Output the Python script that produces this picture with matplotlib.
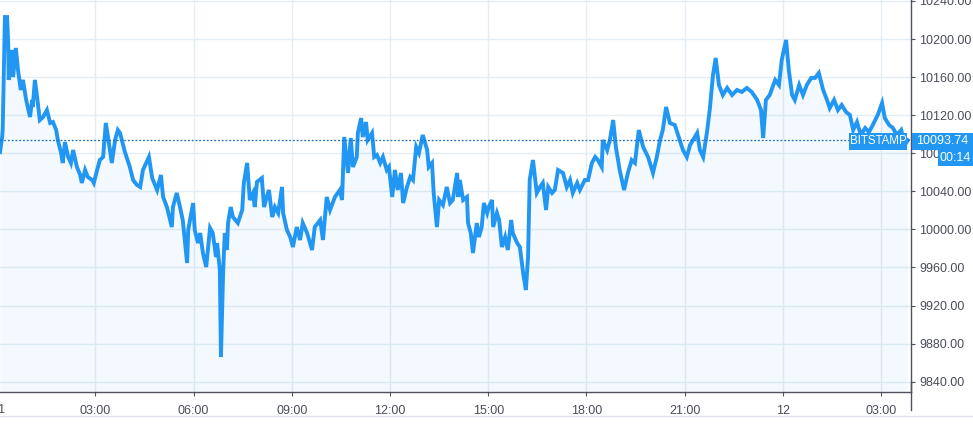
import matplotlib
matplotlib.use("Agg")
import matplotlib.pyplot as plt
from matplotlib.patches import Rectangle

plt.rcParams['font.family'] = ['Liberation Sans Narrow', 'Liberation Sans', 'DejaVu Sans']

# minutes since 11th 00:00, BTC/USD price
minutes = [5, 9, 10, 14, 18, 20, 21, 27, 29, 34, 38, 43, 47, 53, 60, 64, 65, 69, 73, 78,
           84, 91, 97, 102, 108, 111, 117, 120, 124, 130, 135, 139, 146, 152, 155, 161, 166, 174, 177, 183,
           188, 194, 199, 203, 210, 216, 221, 225, 234, 243, 249, 256, 262, 267, 278, 284, 293, 300, 304, 311,
           320, 322, 329, 335, 340, 348, 350, 359, 362, 368, 372, 377, 383, 390, 395, 401, 403, 408, 410, 414,
           417, 421, 423, 428, 432, 441, 449, 452, 458, 463, 469, 472, 476, 485, 489, 494, 498, 504, 509, 515,
           522, 524, 531, 537, 542, 549, 555, 560, 568, 577, 582, 592, 597, 604, 610, 619, 628, 632, 636, 641,
           643, 648, 652, 659, 661, 667, 670, 676, 679, 687, 691, 696, 702, 707, 714, 718, 724, 729, 734, 740,
           744, 751, 757, 762, 768, 773, 780, 788, 791, 797, 800, 806, 810, 817, 824, 830, 835, 843, 845, 848,
           854, 861, 863, 868, 872, 879, 883, 888, 892, 898, 901, 907, 909, 916, 920, 925, 931, 936, 942, 945,
           953, 958, 964, 969, 973, 976, 982, 989, 995, 1000, 1006, 1010, 1017, 1022, 1028, 1037, 1044, 1050, 1055, 1063,
           1068, 1077, 1083, 1090, 1096, 1101, 1108, 1110, 1118, 1123, 1129, 1134, 1141, 1149, 1156, 1163, 1169, 1176, 1184, 1193,
           1202, 1209, 1215, 1220, 1226, 1233, 1242, 1251, 1257, 1264, 1270, 1283, 1288, 1294, 1301, 1306, 1312, 1317, 1323, 1330,
           1338, 1347, 1356, 1365, 1374, 1383, 1393, 1400, 1404, 1409, 1416, 1426, 1433, 1438, 1446, 1451, 1457, 1462, 1470, 1477,
           1484, 1492, 1499, 1506, 1514, 1521, 1526, 1534, 1541, 1548, 1556, 1563, 1569, 1576, 1583, 1591, 1598, 1605, 1614, 1622,
           1627, 1635, 1642, 1649, 1657, 1664, 1669]
prices = [10081.3, 10097.1, 10106.5, 10223.1, 10223.1, 10195.8, 10157.0, 10188.5, 10160.1, 10190.6,
          10167.5, 10146.5, 10157.0, 10136.0, 10118.1, 10136.0, 10128.6, 10157.0, 10139.1, 10114.9,
          10118.1, 10125.4, 10111.8, 10112.8, 10104.4, 10093.9, 10080.3, 10069.8, 10091.8, 10076.1,
          10069.8, 10083.4, 10065.6, 10057.2, 10048.8, 10062.4, 10055.1, 10051.9, 10048.8, 10062.4,
          10072.9, 10076.1, 10111.8, 10097.1, 10069.8, 10093.9, 10104.4, 10101.3, 10081.3, 10065.6,
          10051.9, 10046.7, 10044.6, 10062.4, 10076.1, 10054.0, 10041.4, 10057.2, 10034.1, 10023.5,
          10002.5, 10023.5, 10038.3, 10023.5, 10009.9, 9964.7, 9999.4, 10027.7, 9999.4, 9985.7,
          9996.2, 9975.2, 9960.5, 10001.5, 9996.2, 9971.0, 9985.7, 9957.4, 9866.0, 9954.2,
          9996.2, 9978.4, 10006.7, 10023.5, 10013.0, 10006.7, 10020.4, 10048.8, 10069.8, 10030.9,
          10038.3, 10023.5, 10049.8, 10054.0, 10023.5, 10034.1, 10041.4, 10013.0, 10023.5, 10017.2,
          10044.6, 10017.2, 9999.4, 9992.0, 9981.5, 10002.5, 9988.9, 10006.7, 9996.2, 9978.4,
          10002.5, 10009.9, 9988.9, 10034.1, 10020.4, 10034.1, 10041.4, 10030.9, 10097.1, 10069.8,
          10059.3, 10096.0, 10065.6, 10076.1, 10101.3, 10117.0, 10097.1, 10112.8, 10093.9, 10101.3,
          10076.1, 10078.2, 10069.8, 10076.1, 10062.4, 10065.6, 10034.1, 10062.4, 10041.4, 10059.3,
          10027.7, 10044.6, 10055.1, 10051.9, 10086.6, 10080.3, 10099.2, 10083.4, 10065.6, 10069.8,
          10038.3, 10002.5, 10030.9, 10025.6, 10044.6, 10027.7, 10030.9, 10059.3, 10034.1, 10051.9,
          10030.9, 10034.1, 10006.7, 9996.2, 9975.2, 10006.7, 9992.0, 10002.5, 10027.7, 10017.2,
          10023.5, 10030.9, 10002.5, 10017.2, 10009.9, 9981.5, 9992.0, 9978.4, 10009.9, 9996.2,
          9985.7, 9981.5, 9954.2, 9936.4, 9971.0, 10051.9, 10072.9, 10038.3, 10044.6, 10048.8,
          10020.4, 10044.6, 10038.3, 10041.4, 10062.4, 10059.3, 10044.6, 10051.9, 10038.3, 10048.8,
          10041.4, 10051.9, 10051.9, 10069.8, 10076.1, 10072.9, 10065.6, 10093.9, 10083.4, 10093.9,
          10114.9, 10086.6, 10062.4, 10041.4, 10059.3, 10072.9, 10069.8, 10104.4, 10086.6, 10076.1,
          10059.3, 10076.1, 10093.9, 10104.4, 10128.6, 10111.8, 10109.7, 10093.9, 10083.4, 10076.1,
          10088.7, 10101.3, 10083.4, 10076.1, 10102.3, 10125.4, 10162.2, 10180.1, 10151.7, 10141.2,
          10148.6, 10141.2, 10146.5, 10144.4, 10148.6, 10144.4, 10136.0, 10125.4, 10096.0, 10136.0,
          10141.2, 10157.0, 10151.7, 10178.0, 10199.0, 10167.5, 10141.2, 10136.0, 10151.7, 10141.2,
          10151.7, 10159.1, 10159.1, 10164.3, 10146.5, 10136.0, 10127.5, 10136.0, 10125.4, 10130.7,
          10123.3, 10120.2, 10104.4, 10112.8, 10099.2, 10106.5, 10102.3, 10109.7, 10120.2, 10132.8,
          10117.0, 10109.7, 10106.5, 10099.2, 10104.4, 10088.7, 10093.74]

last_price = 10093.74
y_ticks = [9840, 9880, 9920, 9960, 10000, 10040, 10080, 10120, 10160, 10200, 10240]
x_ticks = [180, 360, 540, 720, 900, 1080, 1260, 1440, 1620]
x_labels = ["03:00", "06:00", "09:00", "12:00", "15:00", "18:00", "21:00", "12", "03:00"]

blue = "#2196f3"
grid_col = "#e3edf4"
axis_col = "#50535e"
text_col = "#4a4e59"
fs = 9

W, H = 973, 424
fig = plt.figure(figsize=(W / 100, H / 100), dpi=100)
ax = fig.add_axes([0, (H - 392) / H, 911 / W, 392 / H])

y_bottom, y_top = 9829.2, 10241.0
ax.set_xlim(5, 1675)
ax.set_ylim(y_bottom, y_top)

ax.fill_between(minutes, prices, y_bottom, color=blue, alpha=0.05, lw=0)
ax.plot(minutes, prices, color=blue, lw=2.8, solid_joinstyle="miter")
ax.axhline(last_price, color="#1e6fb8", lw=0.9, ls=(0, (1.5, 1.5)))

ax.set_yticks(y_ticks)
ax.set_yticklabels([f"{v:.2f}" for v in y_ticks])
ax.set_xticks(x_ticks)
ax.set_xticklabels(x_labels)
ax.yaxis.tick_right()
ax.grid(True, color=grid_col, lw=1)
ax.set_axisbelow(True)

for s in ["top", "left"]:
    ax.spines[s].set_visible(False)
for s in ["right", "bottom"]:
    ax.spines[s].set_color(axis_col)
    ax.spines[s].set_linewidth(1)
ax.tick_params(axis="y", length=3, color=axis_col, labelcolor=text_col, labelsize=fs, pad=3)
ax.tick_params(axis="x", length=3, color=axis_col, labelcolor=text_col, labelsize=fs, pad=6)

# day label of the first tick, partly cut at the left edge
ax.text(3, -0.045, "11", transform=ax.get_xaxis_transform(), ha="center", va="center",
        color=text_col, fontsize=fs, clip_on=False)

# price scale extends into time-scale area
fig.add_artist(plt.Line2D([911 / W, 911 / W], [(H - 410) / H, 0.1], color=axis_col, lw=1))
fig.add_artist(plt.Line2D([0, 1], [(H - 416) / H, (H - 416) / H], color="#e0e3eb", lw=1))


def label_box(x0, y0, x1, y1, txt, size=fs):
    fig.add_artist(Rectangle((x0 / W, (H - y1) / H), (x1 - x0) / W, (y1 - y0) / H,
                             transform=fig.transFigure, color=blue, lw=0))
    fig.text((x0 + x1) / 2 / W, (H - (y0 + y1) / 2) / H, txt, color="white",
             fontsize=size, ha="center", va="center")


label_box(849, 133, 907, 150, "BITSTAMP", size=8.3)
label_box(912, 133, 973, 150, f"{last_price:.2f}")
label_box(938, 150, 973, 166, "00:14")

fig.savefig("out.png", dpi=100)
